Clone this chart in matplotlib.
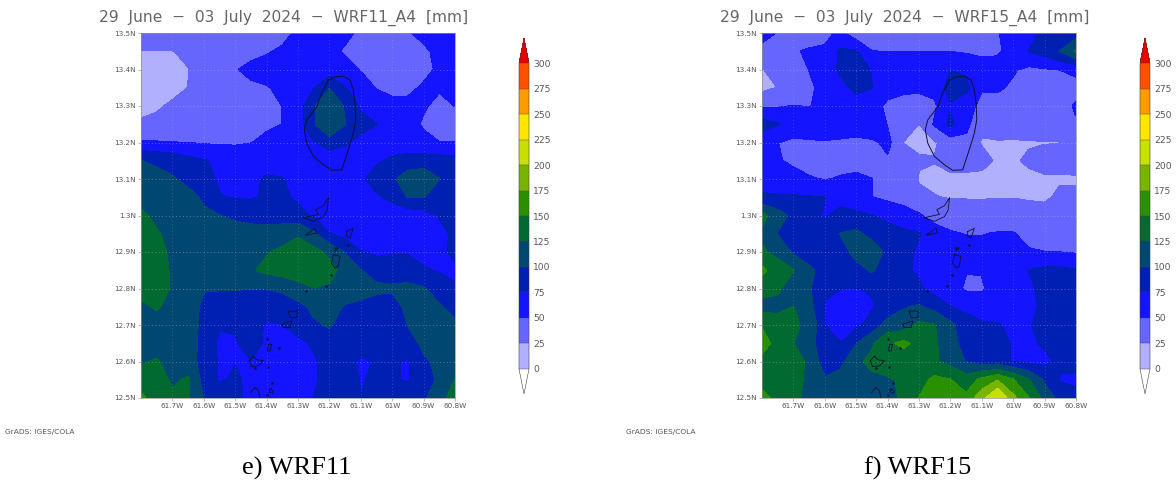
import numpy as np
import matplotlib
matplotlib.use('Agg')
import matplotlib.pyplot as plt

# grid: 0.05 deg steps, rows run north to south
lons = [-61.8 + 0.05 * i for i in range(21)]
lats = [13.5 - 0.05 * j for j in range(21)]

levels = [0, 25, 50, 75, 100, 125, 150, 175, 200, 225, 250, 275, 300]
colors = ['#b0b0ff', '#6666ff', '#1414ff', '#0020b4', '#004872', '#006a30',
          '#2a9000', '#78b400', '#c8e000', '#ffe600', '#ff9a00', '#ff5000']
lat_labels = ['13.5N', '13.4N', '13.3N', '13.2N', '13.1N', '1.3N', '12.9N', '12.8N', '12.7N', '12.6N', '12.5N']
lat_ticks = [13.5, 13.4, 13.3, 13.2, 13.1, 13.0, 12.9, 12.8, 12.7, 12.6, 12.5]
lon_labels = ['61.7W', '61.6W', '61.5W', '61.4W', '61.3W', '61.2W', '61.1W', '61W', '60.9W', '60.8W']
lon_ticks = [-61.7, -61.6, -61.5, -61.4, -61.3, -61.2, -61.1, -61.0, -60.9, -60.8]

wrf11 = [
    [38, 38, 38, 38, 38, 38, 38, 38, 38, 40, 55, 60, 60, 55, 45, 42, 42, 48, 55, 58, 60],
    [24, 24, 24, 30, 36, 38, 40, 42, 47, 54, 60, 62, 55, 47, 42, 40, 40, 42, 46, 55, 60],
    [18, 15, 18, 24, 35, 42, 48, 56, 60, 62, 62, 60, 60, 58, 48, 42, 38, 38, 40, 55, 60],
    [15, 15, 18, 25, 35, 40, 42, 45, 48, 55, 62, 72, 98, 76, 62, 48, 40, 42, 54, 52, 62],
    [18, 22, 28, 35, 38, 42, 44, 45, 46, 50, 62, 95, 125, 95, 70, 64, 60, 58, 52, 44, 50],
    [28, 30, 34, 38, 40, 42, 44, 46, 46, 50, 62, 96, 125, 100, 85, 75, 65, 58, 47, 44, 42],
    [52, 51, 50, 49, 47, 46, 46, 49, 55, 60, 65, 72, 85, 78, 65, 60, 60, 58, 56, 50, 50],
    [100, 95, 90, 82, 76, 72, 68, 64, 62, 60, 58, 58, 60, 60, 65, 70, 80, 85, 85, 85, 82],
    [110, 108, 102, 92, 82, 72, 68, 68, 78, 76, 65, 60, 58, 58, 68, 88, 95, 112, 118, 100, 90],
    [115, 115, 112, 108, 95, 76, 73, 72, 78, 80, 70, 64, 60, 58, 60, 70, 82, 100, 100, 85, 78],
    [130, 118, 115, 112, 105, 100, 95, 92, 90, 88, 82, 72, 60, 58, 56, 56, 56, 58, 62, 76, 82],
    [140, 127, 118, 112, 110, 110, 110, 108, 108, 112, 122, 103, 75, 66, 60, 55, 55, 55, 58, 70, 78],
    [140, 135, 118, 112, 112, 112, 115, 120, 123, 130, 135, 132, 118, 98, 75, 70, 72, 72, 65, 62, 85],
    [142, 140, 120, 113, 112, 112, 115, 122, 130, 135, 138, 140, 135, 112, 100, 88, 88, 88, 78, 72, 65],
    [135, 135, 122, 115, 101, 101, 101, 100, 100, 104, 115, 124, 120, 115, 110, 105, 103, 105, 101, 90, 80],
    [118, 128, 115, 110, 95, 90, 88, 86, 85, 85, 92, 105, 110, 97, 93, 88, 88, 106, 105, 102, 90],
    [98, 110, 112, 112, 92, 77, 78, 85, 72, 74, 85, 96, 102, 88, 85, 85, 85, 100, 106, 110, 105],
    [110, 113, 113, 112, 90, 70, 72, 85, 70, 67, 68, 78, 88, 85, 82, 82, 82, 88, 105, 110, 112],
    [122, 127, 115, 112, 88, 72, 74, 74, 65, 62, 62, 72, 82, 80, 72, 76, 78, 72, 95, 106, 112],
    [135, 132, 122, 127, 90, 72, 78, 70, 63, 60, 60, 72, 82, 82, 74, 77, 78, 72, 90, 103, 125],
    [155, 135, 128, 126, 98, 88, 80, 68, 62, 60, 62, 75, 85, 82, 75, 78, 85, 88, 95, 115, 135],
]

wrf15 = [
    [60, 48, 38, 38, 42, 55, 32, 30, 38, 40, 42, 42, 42, 42, 44, 48, 60, 70, 78, 85, 85],
    [40, 40, 48, 52, 54, 78, 76, 50, 49, 49, 49, 49, 49, 46, 42, 46, 58, 75, 85, 100, 128],
    [24, 30, 40, 50, 55, 80, 95, 72, 64, 62, 62, 62, 74, 72, 65, 60, 52, 44, 47, 50, 55],
    [18, 25, 38, 46, 56, 65, 82, 75, 60, 55, 53, 56, 85, 80, 52, 53, 46, 42, 48, 42, 42],
    [46, 47, 50, 49, 55, 55, 60, 60, 44, 40, 42, 46, 72, 60, 42, 40, 38, 38, 38, 42, 52],
    [85, 76, 65, 62, 62, 60, 62, 72, 48, 38, 24, 52, 80, 55, 32, 40, 38, 36, 36, 40, 48],
    [54, 50, 44, 47, 48, 47, 44, 44, 56, 24, 18, 22, 35, 44, 22, 22, 22, 23, 24, 24, 24],
    [62, 52, 45, 40, 38, 40, 42, 42, 46, 40, 28, 26, 40, 40, 35, 20, 22, 28, 32, 33, 34],
    [65, 62, 58, 52, 48, 52, 54, 50, 46, 48, 22, 18, 15, 15, 15, 16, 18, 20, 22, 22, 22],
    [78, 77, 77, 76, 75, 66, 58, 50, 44, 40, 32, 26, 23, 23, 23, 24, 24, 22, 20, 30, 30],
    [132, 110, 92, 86, 72, 82, 80, 75, 68, 60, 52, 40, 38, 38, 36, 36, 36, 36, 36, 34, 34],
    [120, 98, 80, 78, 82, 100, 105, 90, 84, 80, 76, 60, 52, 49, 49, 51, 51, 42, 36, 34, 34],
    [128, 118, 95, 85, 82, 88, 108, 115, 92, 80, 72, 64, 60, 58, 56, 55, 54, 52, 50, 49, 47],
    [155, 135, 125, 105, 90, 85, 90, 102, 88, 78, 72, 62, 60, 51, 51, 60, 62, 75, 80, 80, 76],
    [135, 128, 112, 102, 80, 75, 74, 77, 78, 80, 78, 64, 60, 46, 47, 60, 64, 70, 82, 82, 85],
    [115, 118, 125, 108, 72, 65, 65, 72, 85, 98, 102, 90, 75, 68, 60, 60, 62, 68, 80, 85, 85],
    [145, 135, 128, 120, 75, 68, 68, 84, 108, 110, 130, 125, 105, 85, 78, 77, 68, 72, 85, 85, 85],
    [165, 135, 125, 112, 76, 75, 98, 120, 145, 155, 142, 128, 108, 90, 85, 85, 72, 70, 78, 85, 85],
    [138, 140, 135, 120, 85, 92, 118, 132, 135, 135, 135, 128, 115, 98, 85, 85, 72, 68, 68, 80, 85],
    [138, 135, 135, 118, 102, 110, 112, 118, 122, 128, 140, 155, 150, 135, 155, 172, 150, 125, 95, 72, 68],
    [158, 142, 132, 115, 125, 118, 112, 112, 118, 128, 150, 172, 175, 155, 190, 225, 180, 150, 115, 90, 85],
]

# coastlines, lon/lat
st_vincent_lon = [-61.203, -61.182, -61.156, -61.134, -61.124, -61.118, -61.116, -61.124, -61.14, -61.161,
                  -61.193, -61.219, -61.251, -61.272, -61.28, -61.272, -61.24, -61.225, -61.203]
st_vincent_lat = [13.371, 13.38, 13.382, 13.371, 13.344, 13.307, 13.262, 13.225, 13.18, 13.125,
                  13.124, 13.139, 13.162, 13.198, 13.235, 13.262, 13.298, 13.335, 13.371]
islands = [
    [(-61.203, 13.048), (-61.219, 13.027), (-61.243, 13.016), (-61.235, 13.003), (-61.283, 12.994),
     (-61.251, 12.984), (-61.219, 12.997), (-61.207, 13.015), (-61.203, 13.048)],
    [(-61.275, 12.947), (-61.246, 12.965), (-61.241, 12.952), (-61.267, 12.947), (-61.275, 12.947)],
    [(-61.145, 12.956), (-61.124, 12.965), (-61.134, 12.938), (-61.145, 12.943), (-61.145, 12.956)],
    [(-61.182, 12.911), (-61.172, 12.911), (-61.182, 12.902), (-61.182, 12.911)],
    [(-61.187, 12.893), (-61.166, 12.888), (-61.172, 12.861), (-61.182, 12.856), (-61.193, 12.87), (-61.187, 12.893)],
    [(-61.331, 12.738), (-61.302, 12.738), (-61.304, 12.72), (-61.325, 12.72), (-61.331, 12.738)],
    [(-61.352, 12.702), (-61.32, 12.711), (-61.325, 12.693), (-61.347, 12.693), (-61.352, 12.702)],
    [(-61.394, 12.647), (-61.384, 12.647), (-61.389, 12.629), (-61.397, 12.629), (-61.394, 12.647)],
    [(-61.455, 12.602), (-61.442, 12.615), (-61.432, 12.605), (-61.41, 12.602), (-61.426, 12.588),
     (-61.448, 12.586), (-61.455, 12.602)],
    [(-61.451, 12.515), (-61.437, 12.529), (-61.426, 12.52), (-61.421, 12.5)],
    [(-61.389, 12.525), (-61.379, 12.52), (-61.381, 12.513), (-61.392, 12.517), (-61.389, 12.525)],
]
speck_lon = [-61.14, -61.195, -61.211, -61.276, -61.4, -61.36, -61.394, -61.437, -61.384, -61.4]
speck_lat = [12.92, 12.838, 12.806, 12.793, 12.661, 12.638, 12.586, 12.581, 12.541, 12.508]

W, H = 1176, 484
TEXT = '#555555'


def box(x0, y0, x1, y1):
    # pixel box to figure fractions
    return [x0 / W, 1 - y1 / H, (x1 - x0) / W, (y1 - y0) / H]


def draw_panel(fig, field, title, caption, dx):
    ax = fig.add_axes(box(141 + dx, 33, 455 + dx, 398))
    cs = ax.contourf(lons, lats, np.array(field, dtype=float), levels=levels, colors=colors, extend='both')
    cs.set_edgecolor('face')
    cs.cmap.set_under('white')
    cs.cmap.set_over('#e60000')

    for la in lat_ticks[1:-1]:
        ax.axhline(la, color='#c8c8c8', lw=0.5, ls=(0, (1, 4)), alpha=0.8)
    for lo in lon_ticks[:-1]:
        ax.axvline(lo, color='#c0c0c0', lw=0.5, ls=(0, (1, 4)), alpha=0.5)

    ax.plot(st_vincent_lon, st_vincent_lat, color='#101030', lw=0.7)
    for isl in islands:
        ax.plot([p[0] for p in isl], [p[1] for p in isl], color='#101030', lw=0.6)
    ax.plot(speck_lon, speck_lat, ls='none', marker='.', ms=1.5, color='#101030')

    ax.set_xlim(-61.8, -60.8)
    ax.set_ylim(12.5, 13.5)
    ax.set_xticks(lon_ticks)
    ax.set_xticklabels(lon_labels)
    ax.set_yticks(lat_ticks)
    ax.set_yticklabels(lat_labels)
    ax.tick_params(length=2, width=0.4, color='#888888', labelsize=5.2, labelcolor=TEXT, pad=1.5)
    for s in ax.spines.values():
        s.set_linewidth(0.5)
        s.set_color('#909090')

    # the colorbar axes span tip to tip of the two arrows
    cax = fig.add_axes(box(519 + dx, 38, 529 + dx, 394))
    cb = fig.colorbar(cs, cax=cax, extend='both', extendfrac=0.082, ticks=levels, drawedges=True)
    cb.ax.tick_params(length=0, labelsize=6.6, labelcolor=TEXT, pad=3)
    cb.outline.set_linewidth(0.4)
    cb.outline.set_edgecolor('#404040')
    cb.dividers.set_linewidth(0.3)
    cb.dividers.set_color('#404040')

    fig.text((284 + dx) / W, 1 - 18 / H, title, ha='center', va='center', fontsize=11.2,
             color='#666666', family='DejaVu Sans')
    fig.text((5 + dx) / W, 1 - 432 / H, 'GrADS: IGES/COLA', ha='left', va='center', fontsize=5.4, color=TEXT)
    fig.text((297 + dx) / W, 1 - 468 / H, caption, ha='center', va='center', fontsize=19,
             color='black', family='Liberation Serif')


fig = plt.figure(figsize=(W / 100, H / 100), dpi=100, facecolor='white')
draw_panel(fig, wrf11, '29  June  \u2212  03  July  2024  \u2212  WRF11_A4  [mm]', 'e) WRF11', 0)
draw_panel(fig, wrf15, '29  June  \u2212  03  July  2024  \u2212  WRF15_A4  [mm]', 'f) WRF15', 621)
fig.savefig('out.png', dpi=100)
